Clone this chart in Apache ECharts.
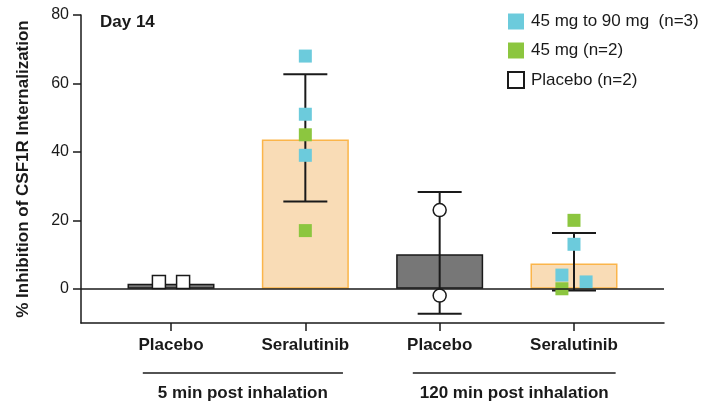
<!DOCTYPE html>
<html>
<head>
<meta charset="utf-8">
<script src="https://cdn.jsdelivr.net/npm/echarts@6/dist/echarts.min.js"></script>
<style>
  html, body { margin: 0; padding: 0; background: #fff; }
  #chart { width: 705px; height: 404px; }
</style>
</head>
<body>
<div id="chart"></div>
<script>
const categories = ['Placebo', 'Seralutinib', 'Placebo', 'Seralutinib'];
const meanValues = [1.5, 43.6, 10.1, 7.4];
const errLow = [null, 25.5, -7.3, -0.5];
const errHigh = [null, 62.7, 28.3, 16.3];

// individual points: [x position, value]
const cyanPoints = [[2, 68], [2, 51], [2, 39], [4, 13], [3.91, 4], [4.09, 2]];
const greenPoints = [[2, 45], [2, 17], [4, 20], [3.91, 0]];
const placeboSquares = [[0.91, 2], [1.09, 2]];
const placeboCircles = [[3, 23], [3, -2]];

const groupLabels = ['5 min post inhalation', '120 min post inhalation'];
const groupSpans = [[0.79, 2.28], [2.8, 4.31]];

const font = '"Liberation Sans", Arial, sans-serif';
const ink = '#1a1a1a';
const grayBar = '#777777';
const peach = '#f9dcb6';
const orange = '#fbb54a';
const cyan = '#6ccbdc';
const green = '#8cc63f';

const chart = echarts.init(document.getElementById('chart'));

const barData = meanValues.map((v, i) => ({
    value: [i + 1, v],
    itemStyle: i % 2 === 0
        ? { color: grayBar, borderColor: ink, borderWidth: 1.5 }
        : { color: peach, borderColor: orange, borderWidth: 1.5 },
}));

const errData = [];
errLow.forEach((lo, i) => {
    if (lo !== null) errData.push([i + 1, lo, errHigh[i]]);
});

chart.setOption({
    animation: false,
    textStyle: { fontFamily: font },
    title: {
        text: 'Day 14',
        left: 95, top: 9,
        textStyle: { fontSize: 17, fontWeight: 'bold', color: ink, fontFamily: font },
    },
    legend: {
        orient: 'vertical',
        left: 502, top: 8,
        itemWidth: 16, itemHeight: 16, itemGap: 12,
        data: ['45 mg to 90 mg  (n=3)', '45 mg (n=2)', 'Placebo (n=2)'],
        textStyle: { fontSize: 17, lineHeight: 16, color: ink, fontFamily: font, padding: [0, 0, 0, 2] },
    },
    grid: { left: 81, right: 41, top: 15, bottom: 81 },
    xAxis: {
        type: 'value',
        min: 0.33, max: 4.67,
        splitLine: { show: false },
        axisLine: { onZero: false, lineStyle: { color: ink, width: 1.5 } },
        axisTick: { customValues: [1, 2, 3, 4], length: 8, lineStyle: { color: ink, width: 1.5 } },
        axisLabel: {
            customValues: [1, 2, 3, 4],
            formatter: v => categories[Math.round(v) - 1],
            fontSize: 17, fontWeight: 'bold', color: ink, margin: 14,
        },
    },
    yAxis: {
        type: 'value',
        min: -10, max: 80, interval: 20,
        name: '% Inhibition of CSF1R Internalization',
        nameLocation: 'middle', nameGap: 49,
        nameTextStyle: { fontSize: 17, fontWeight: 'bold', color: ink },
        splitLine: { show: false },
        axisLine: { show: true, lineStyle: { color: ink, width: 1.5 } },
        axisTick: { show: true, length: 8, lineStyle: { color: ink, width: 1.5 },
            customValues: [0, 20, 40, 60, 80] },
        axisLabel: { fontSize: 16, color: ink, margin: 12, customValues: [0, 20, 40, 60, 80] },
    },
    series: [
        {
            type: 'bar',
            barWidth: 87,
            data: barData,
            z: 2,
            markLine: {
                silent: true, symbol: 'none', label: { show: false },
                lineStyle: { color: ink, width: 1.5, type: 'solid' },
                data: [{ yAxis: 0 }],
            },
        },
        {
            type: 'custom',
            z: 3,
            data: errData,
            renderItem: (params, api) => {
                const x = api.value(0);
                const lo = api.coord([x, api.value(1)]);
                const hi = api.coord([x, api.value(2)]);
                const half = 22;
                const style = { stroke: ink, lineWidth: 2 };
                return {
                    type: 'group',
                    children: [
                        { type: 'line', shape: { x1: lo[0], y1: lo[1], x2: hi[0], y2: hi[1] }, style },
                        { type: 'line', shape: { x1: hi[0] - half, y1: hi[1], x2: hi[0] + half, y2: hi[1] }, style },
                        { type: 'line', shape: { x1: lo[0] - half, y1: lo[1], x2: lo[0] + half, y2: lo[1] }, style },
                    ],
                };
            },
        },
        {
            name: '45 mg to 90 mg  (n=3)',
            type: 'scatter', symbol: 'rect', symbolSize: 13, z: 4,
            itemStyle: { color: cyan, opacity: 1 },
            data: cyanPoints,
        },
        {
            name: '45 mg (n=2)',
            type: 'scatter', symbol: 'rect', symbolSize: 13, z: 4,
            itemStyle: { color: green, opacity: 1 },
            data: greenPoints,
        },
        {
            name: 'Placebo (n=2)',
            type: 'scatter', symbol: 'rect', symbolSize: 13, z: 4,
            itemStyle: { color: '#fff', borderColor: ink, borderWidth: 1.5, opacity: 1 },
            data: placeboSquares,
        },
        {
            name: 'Placebo 120',
            type: 'scatter', symbol: 'circle', symbolSize: 13, z: 4,
            itemStyle: { color: '#fff', borderColor: ink, borderWidth: 1.5, opacity: 1 },
            data: placeboCircles,
        },
    ],
});

// group brackets under the category labels
const toPx = p => chart.convertToPixel({ xAxisIndex: 0, yAxisIndex: 0 }, p);
const baseY = toPx([1, -10])[1];
const graphics = [];
groupSpans.forEach((span, i) => {
    const a = toPx([span[0], -10])[0];
    const b = toPx([span[1], -10])[0];
    graphics.push({
        type: 'line',
        shape: { x1: a, y1: baseY + 50, x2: b, y2: baseY + 50 },
        style: { stroke: ink, lineWidth: 1.5 },
    });
    graphics.push({
        type: 'text',
        x: (a + b) / 2, y: baseY + 70,
        style: {
            text: groupLabels[i], fill: ink, font: 'bold 17px ' + font,
            align: 'center', verticalAlign: 'middle',
        },
    });
});
chart.setOption({ graphic: graphics });
</script>
</body>
</html>
